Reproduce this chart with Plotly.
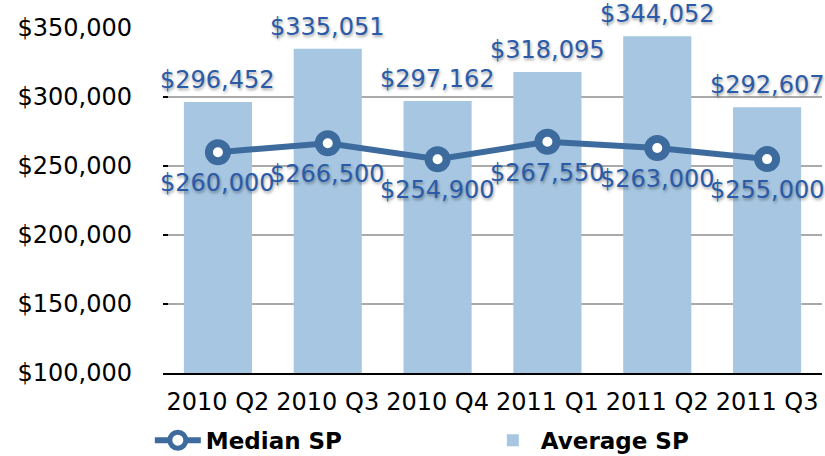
import plotly.graph_objects as go

categories = ["2010 Q2", "2010 Q3", "2010 Q4", "2011 Q1", "2011 Q2", "2011 Q3"]
average_sp = [296452, 335051, 297162, 318095, 344052, 292607]
median_sp = [260000, 266500, 254900, 267550, 263000, 255000]
y_ticks = [100000, 150000, 200000, 250000, 300000, 350000]

FONT = "DejaVu Sans"
LABEL_BLUE = "#2b5ba8"
LINE_BLUE = "#3e6b9e"
BAR_BLUE = "#a6c6e1"
SHADOW = "1px 2px 3px rgba(0,0,0,0.35)"

fig = go.Figure()
fig.add_trace(go.Scatter(
    x=categories, y=median_sp, name="Median SP", mode="lines+markers",
    line=dict(color=LINE_BLUE, width=6),
    marker=dict(size=18, color="white", line=dict(color=LINE_BLUE, width=8)),
    cliponaxis=False,
))
fig.add_trace(go.Bar(
    x=categories, y=average_sp, name="Average SP",
    marker=dict(color=BAR_BLUE, line=dict(width=0)), width=0.62,
))

for c, v in zip(categories, average_sp):
    fig.add_annotation(x=c, y=v, text=f"${v:,}", showarrow=False, yanchor="middle",
                       yshift=22, font=dict(family=FONT, size=24, color=LABEL_BLUE, shadow=SHADOW))
for c, v in zip(categories, median_sp):
    fig.add_annotation(x=c, y=v, text=f"${v:,}", showarrow=False, yanchor="middle",
                       yshift=-31, font=dict(family=FONT, size=24, color=LABEL_BLUE, shadow=SHADOW))

fig.update_layout(
    width=825, height=456,
    margin=dict(l=163, r=3, t=28, b=83, autoexpand=False),
    paper_bgcolor="white", plot_bgcolor="white",
    font=dict(family=FONT, size=24, color="black"),
    showlegend=True,
    legend=dict(orientation="h", x=-0.02, y=-0.195, xanchor="left", yanchor="middle",
                font=dict(family=FONT, size=23, color="black", weight="bold"),
                entrywidth=274, itemwidth=46, traceorder="normal"),
    xaxis=dict(showgrid=False, showline=True, linecolor="black", linewidth=2,
               ticks="", ticklabelstandoff=6, range=[-0.5, 5.5]),
    yaxis=dict(range=[100000, 350000], tickvals=y_ticks,
               ticktext=[f"${v:,}" for v in y_ticks],
               showgrid=True, gridcolor="#aaaaaa", gridwidth=1.5,
               ticks="inside", ticklen=5, tickcolor="black", tickwidth=2,
               showline=False, zeroline=False, ticklabelstandoff=30),
)

fig.write_html("out.html")
